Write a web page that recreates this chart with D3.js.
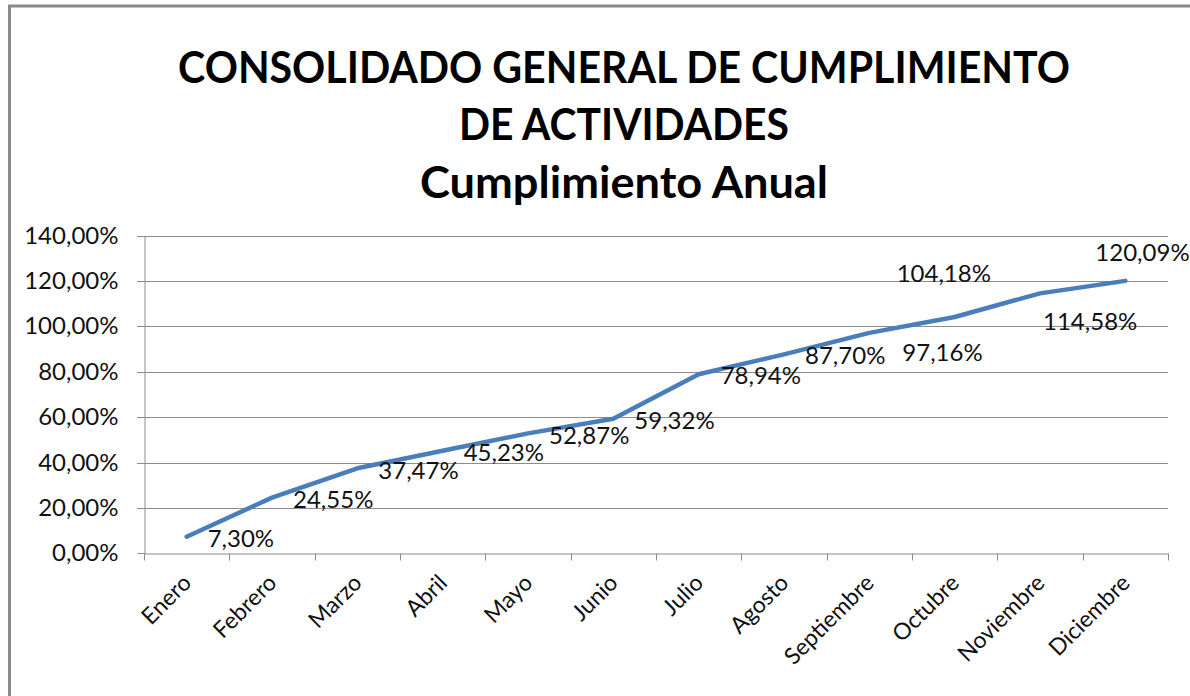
<!DOCTYPE html>
<html>
<head>
<meta charset="utf-8">
<script src="https://cdn.jsdelivr.net/npm/d3@7"></script>
<style>
  html, body { margin: 0; padding: 0; background: #fff; }
  svg { display: block; }
  text { font-family: Lato, "Open Sans", sans-serif; }
</style>
</head>
<body>
<svg id="chart" width="1190" height="696"></svg>
<script>
// ---- data ----
const titleLines = ["CONSOLIDADO GENERAL DE CUMPLIMIENTO", "DE ACTIVIDADES", "Cumplimiento Anual"];
const months = ["Enero", "Febrero", "Marzo", "Abril", "Mayo", "Junio", "Julio", "Agosto", "Septiembre", "Octubre", "Noviembre", "Diciembre"];
const cumplimiento = [7.30, 24.55, 37.47, 45.23, 52.87, 59.32, 78.94, 87.70, 97.16, 104.18, 114.58, 120.09];
const yTicks = [0, 20, 40, 60, 80, 100, 120, 140];

// ---- layout (kept apart from the data) ----
const W = 1190, H = 696;
const plot = { left: 144, right: 1168, top: 235.7, bottom: 553.3 };
// label offsets from each point (left edge dx, vertical centre dy)
const labelOffsets = [
  [21, 1.5], [21, 2], [21, 2], [21, 2], [21, 2], [21, 1.5], [22, 1.5], [21, 1],
  [33, 19], [-58, -44], [3, 28], [-30, -29]
];
const titleLayout = [
  { baseline: 83, width: 892 },
  { baseline: 140, width: 330 },
  { baseline: 198, width: 408 }
];
const titleCenter = 624;

const svg = d3.select("#chart");

svg.append("rect").attr("x", 0).attr("y", 0).attr("width", W).attr("height", H).attr("fill", "#fff");
// outer frame (left + top visible)
svg.append("path")
  .attr("d", `M9.5,${H + 5} L9.5,6 L${W + 5},6`)
  .attr("fill", "none").attr("stroke", "#8a8a8a").attr("stroke-width", 3);

const x = d3.scaleBand().domain(months).range([plot.left, plot.right]).paddingInner(0).paddingOuter(0);
const y = d3.scaleLinear().domain([0, 140]).range([plot.bottom, plot.top]);

const locale = d3.formatLocale({ decimal: ",", thousands: ".", grouping: [3], currency: ["", "€"] });
const f2 = locale.format(".2f");
const pct = v => f2(v) + "%";

// gridlines
svg.append("g").selectAll("line").data(yTicks.filter(t => t > 0)).join("line")
  .attr("x1", plot.left - 7).attr("x2", plot.right)
  .attr("y1", d => Math.round(y(d)) + 0.5).attr("y2", d => Math.round(y(d)) + 0.5)
  .attr("stroke", "#8c8c8c").attr("stroke-width", 1);

// y axis
const yAxis = d3.axisLeft(y).tickValues(yTicks).tickFormat(pct).tickSize(7).tickSizeOuter(0).tickPadding(19);
const gy = svg.append("g").attr("transform", `translate(${plot.left + 0.5},0)`).call(yAxis);
gy.select(".domain").attr("stroke", "#8c8c8c");
gy.selectAll(".tick line").attr("stroke", "#8c8c8c");
gy.selectAll(".tick text").attr("font-size", 24).attr("fill", "#111").attr("font-family", "Lato, sans-serif");
gy.selectAll(".tick").attr("transform", d => `translate(0,${Math.round(y(d)) + 0.5})`);

// x axis
const xAxis = d3.axisBottom(x).tickSize(0).tickFormat("");
const gx = svg.append("g").attr("transform", `translate(0,${Math.round(plot.bottom) + 0.5})`).call(xAxis);
gx.select(".domain").attr("stroke", "#8c8c8c");
gx.selectAll(".tick").remove();
const boundaries = months.map(m => x(m)).concat([x(months[months.length - 1]) + x.bandwidth()]);
gx.selectAll("line.bt").data(boundaries).join("line").attr("class", "bt")
  .attr("x1", d => Math.round(d) + 0.5).attr("x2", d => Math.round(d) + 0.5)
  .attr("y1", 0).attr("y2", 7).attr("stroke", "#8c8c8c");

// month labels rotated
svg.append("g").selectAll("text").data(months).join("text")
  .attr("transform", d => `translate(${x(d) + x.bandwidth() / 2 + 6},${plot.bottom + 31}) rotate(-45)`)
  .attr("text-anchor", "end")
  .attr("font-size", 23).attr("fill", "#111")
  .text(d => d);

// line
const line = d3.line().x((d, i) => x(months[i]) + x.bandwidth() / 2).y(d => y(d));
svg.append("path").datum(cumplimiento)
  .attr("d", line)
  .attr("fill", "none").attr("stroke", "#4a7ebb").attr("stroke-width", 4.5)
  .attr("stroke-linejoin", "round").attr("stroke-linecap", "round");

// data labels
svg.append("g").selectAll("text").data(cumplimiento).join("text")
  .attr("x", (d, i) => x(months[i]) + x.bandwidth() / 2 + labelOffsets[i][0])
  .attr("y", (d, i) => y(d) + labelOffsets[i][1])
  .attr("dy", "0.36em")
  .attr("font-size", 24).attr("fill", "#111")
  .text(d => pct(d));

// title
const tg = svg.append("g");
titleLines.forEach((t, i) => {
  const el = tg.append("text")
    .attr("x", titleCenter).attr("y", titleLayout[i].baseline)
    .attr("text-anchor", "middle")
    .attr("font-size", 43).attr("font-weight", "bold").attr("fill", "#000")
    .text(t);
  const w = el.node().getComputedTextLength();
  const s = titleLayout[i].width / w;
  el.attr("transform", `translate(${titleCenter},0) scale(${s},1) translate(${-titleCenter},0)`);
});
</script>
</body>
</html>
